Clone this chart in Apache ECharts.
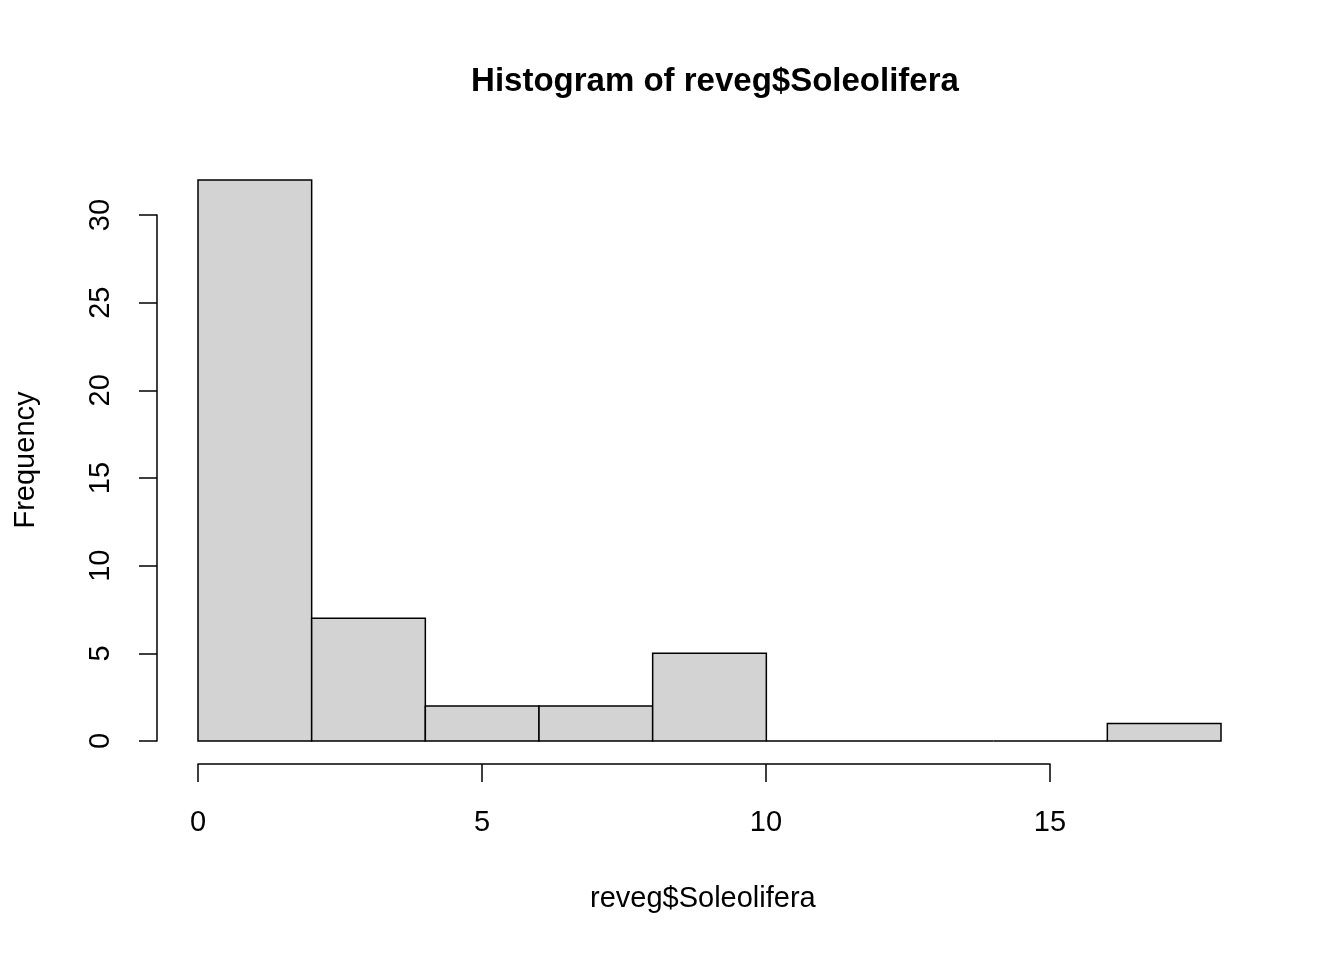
<!DOCTYPE html>
<html><head><meta charset="utf-8">
<script src="https://cdn.jsdelivr.net/npm/echarts@6/dist/echarts.min.js"></script>
<style>html,body{margin:0;padding:0;background:#fff}#c{width:1344px;height:960px}</style>
</head><body><div id="c"></div>
<script>
const binStarts = [0, 2, 4, 6, 8, 10, 12, 14, 16];
const binEnds = [2, 4, 6, 8, 10, 12, 14, 16, 18];
const counts = [32, 7, 2, 2, 5, 0, 0, 0, 1];
const yTicks = [0, 5, 10, 15, 20, 25, 30];
const xTicks = [0, 5, 10, 15];

const F = 'Liberation Sans, Arial, sans-serif';
const chart = echarts.init(document.getElementById('c'));
chart.setOption({
  backgroundColor: '#fff',
  animation: false,
  title: { text: 'Histogram of reveg$Soleolifera', left: 710, top: 60, textAlign: 'center',
    textStyle: { fontFamily: F, fontSize: 33, fontWeight: 'bold', color: '#000' } },
  grid: [
    { left: 198, right: 123, top: 215, bottom: 219 },
    { left: 198, width: 852, top: 700, bottom: 196 },
    { left: 157, width: 10, top: 215, bottom: 219 }
  ],
  xAxis: [
    { gridIndex: 0, type: 'value', min: 0, max: 18, show: false },
    { gridIndex: 1, type: 'value', min: 0, max: 15, interval: 5, position: 'bottom',
      axisLine: { show: true, lineStyle: { color: '#000', width: 1.5 } },
      axisTick: { show: true, length: 18, lineStyle: { color: '#000', width: 1.5 } },
      axisLabel: { fontFamily: F, fontSize: 29, color: '#000', margin: 44 },
      splitLine: { show: false } },
    { gridIndex: 2, type: 'value', show: false }
  ],
  yAxis: [
    { gridIndex: 0, type: 'value', min: 0, max: 30, show: false },
    { gridIndex: 1, type: 'value', show: false },
    { gridIndex: 2, type: 'value', min: 0, max: 30, interval: 5, position: 'left',
      axisLine: { show: true, lineStyle: { color: '#000', width: 1.5 } },
      axisTick: { show: true, length: 18, lineStyle: { color: '#000', width: 1.5 } },
      axisLabel: { fontFamily: F, fontSize: 29, color: '#000', rotate: 90, margin: 42 },
      splitLine: { show: false } }
  ],
  graphic: [
    { type: 'text', left: 'center', x: 0, top: 884, style: { text: 'reveg$Soleolifera', x: 709,
      fontFamily: F, fontSize: 29, fill: '#000', textAlign: 'center' }, left: 590 },
    { type: 'text', rotation: Math.PI / 2, x: 11, y: 460,
      style: { text: 'Frequency', fontFamily: F, fontSize: 29, fill: '#000', textAlign: 'center', textVerticalAlign: 'top' } }
  ],
  series: [{
    type: 'custom', xAxisIndex: 0, yAxisIndex: 0, clip: false,
    data: binStarts.map((s, i) => [s, binEnds[i], counts[i]]),
    renderItem: function (params, api) {
      const p0 = api.coord([api.value(0), api.value(2)]);
      const p1 = api.coord([api.value(1), 0]);
      return { type: 'rect', shape: { x: p0[0], y: p0[1], width: p1[0] - p0[0], height: p1[1] - p0[1] },
        style: { fill: '#d3d3d3', stroke: '#000', lineWidth: 1.5 } };
    }
  }]
});
</script></body></html>
